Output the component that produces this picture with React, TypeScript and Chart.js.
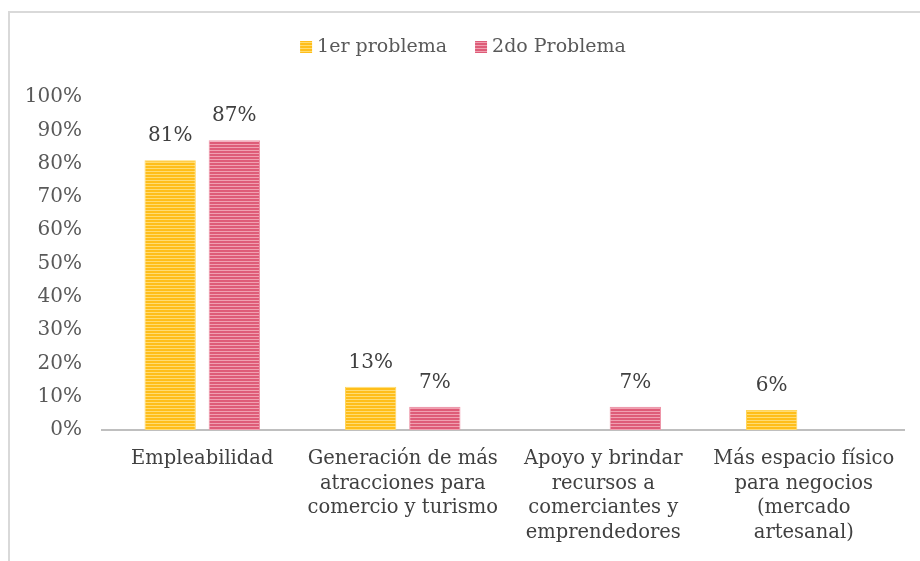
import React, { useEffect, useRef } from "react";
import { Chart, registerables } from "chart.js";

Chart.register(...registerables);

const categories: string[][] = [
  ["Empleabilidad"],
  ["Generación de más", "atracciones para", "comercio y turismo"],
  ["Apoyo y brindar", "recursos a", "comerciantes y", "emprendedores"],
  ["Más espacio físico", "para negocios", "(mercado", "artesanal)"],
];
const seriesNames = ["1er problema", "2do Problema"];
const primerProblema: (number | null)[] = [81, 13, null, 6];
const segundoProblema: (number | null)[] = [87, 7, 7, null];
const yTicks = [0, 10, 20, 30, 40, 50, 60, 70, 80, 90, 100];

const FONT = "'DejaVu Serif', Georgia, serif";

function makePattern(base: string, light: string): CanvasPattern | string {
  const c = document.createElement("canvas");
  c.width = 4;
  c.height = 3;
  const g = c.getContext("2d");
  if (!g) return base;
  g.fillStyle = base;
  g.fillRect(0, 0, 4, 3);
  g.fillStyle = light;
  g.fillRect(0, 0, 4, 1);
  const p = g.createPattern(c, "repeat");
  return p || base;
}

export default function App() {
  const ref = useRef<HTMLCanvasElement | null>(null);

  useEffect(() => {
    if (!ref.current) return;
    const yellow = makePattern("#FFBE1A", "#FFDC73");
    const pink = makePattern("#DE5C78", "#F0A0B1");
    const fills = [yellow, pink];

    const labelPlugin = {
      id: "valueLabels",
      afterDatasetsDraw(chart: any) {
        const ctx = chart.ctx;
        ctx.save();
        ctx.font = `20px ${FONT}`;
        ctx.fillStyle = "#404040";
        ctx.textAlign = "center";
        ctx.textBaseline = "bottom";
        chart.data.datasets.forEach((ds: any, i: number) => {
          const meta = chart.getDatasetMeta(i);
          meta.data.forEach((bar: any, j: number) => {
            const v = ds.data[j];
            if (v === null || v === undefined) return;
            ctx.fillText(`${v}%`, bar.x, bar.y - 14);
          });
        });
        ctx.restore();
      },
    };

    const legendPlugin = {
      id: "customLegend",
      afterDraw(chart: any) {
        const ctx = chart.ctx;
        ctx.save();
        ctx.font = `19px ${FONT}`;
        ctx.fillStyle = "#595959";
        ctx.textBaseline = "middle";
        const box = 12;
        const gap = 5;
        const spacing = 28;
        const widths = seriesNames.map((n) => ctx.measureText(n).width);
        const total = widths.reduce((a, w) => a + box + gap + w, 0) + spacing;
        let x = 463 - total / 2;
        const y = 47;
        seriesNames.forEach((n, i) => {
          ctx.fillStyle = fills[i] as any;
          ctx.fillRect(x, y - box / 2, box, box);
          ctx.fillStyle = "#595959";
          ctx.textAlign = "left";
          ctx.fillText(n, x + box + gap, y);
          x += box + gap + widths[i] + spacing;
        });
        ctx.restore();
      },
    };

    const chart = new Chart(ref.current, {
      type: "bar",
      data: {
        labels: categories as any,
        datasets: [
          {
            label: seriesNames[0],
            data: primerProblema,
            backgroundColor: yellow as any,
            borderColor: "#FFD55A",
            borderWidth: 1,
            categoryPercentage: 0.64,
            barPercentage: 0.8,
          },
          {
            label: seriesNames[1],
            data: segundoProblema,
            backgroundColor: pink as any,
            borderColor: "#EE95A8",
            borderWidth: 1,
            categoryPercentage: 0.64,
            barPercentage: 0.8,
          },
        ],
      },
      options: {
        responsive: false,
        animation: false,
        maintainAspectRatio: false,
        layout: { padding: { left: 0, right: 16, top: 97, bottom: 0 } },
        plugins: {
          legend: { display: false },
          tooltip: { enabled: false },
        },
        scales: {
          x: {
            grid: { display: false, drawTicks: false },
            border: { display: true, color: "#BFBFBF", width: 2 },
            ticks: {
              color: "#404040",
              font: { family: FONT, size: 19.5, lineHeight: 1.28 } as any,
              padding: 16,
              maxRotation: 0,
              autoSkip: false,
            },
            afterFit(scale: any) {
              scale.height = 131;
            },
          },
          y: {
            min: 0,
            max: 100,
            afterBuildTicks(scale: any) {
              scale.ticks = yTicks.map((v) => ({ value: v }));
            },
            grid: { display: false, drawTicks: false },
            border: { display: false },
            ticks: {
              color: "#595959",
              font: { family: FONT, size: 20 },
              padding: 20,
              callback: (v: any) => `${v}%`,
            },
            afterFit(scale: any) {
              scale.width = 102;
            },
          },
        },
      },
      plugins: [labelPlugin, legendPlugin],
    });
    return () => chart.destroy();
  }, []);

  return (
    <div style={{ position: "fixed", left: 0, top: 0, width: 920, height: 561, background: "#fff" }}>
      <div
        style={{
          position: "absolute",
          left: 8,
          top: 11,
          width: 940,
          height: 600,
          borderLeft: "2px solid #D9D9D9",
          borderTop: "2px solid #D9D9D9",
        }}
      />
      <canvas ref={ref} width={920} height={561} style={{ position: "absolute", left: 0, top: 0 }} />
    </div>
  );
}
